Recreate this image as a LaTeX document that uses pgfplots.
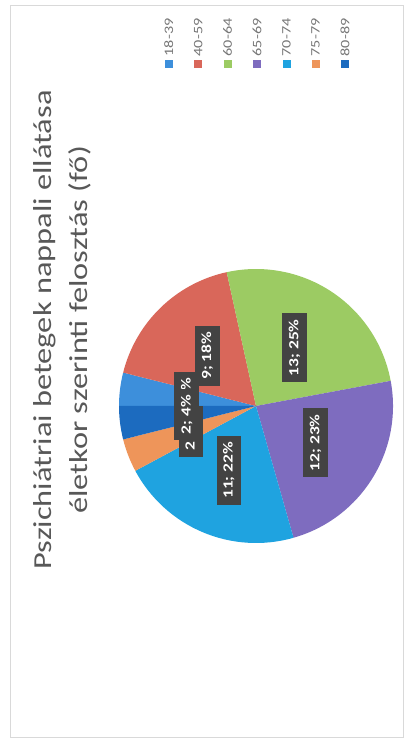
\documentclass[border=0pt]{standalone}
\usepackage{pgfplots}
\pgfplotsset{compat=1.18}
\usepackage{pgfplotstable}
\usepackage{fontspec}
\setmainfont{Carlito}
\newfontfamily\wide[FakeStretch=1.25]{Carlito}

\definecolor{c0}{HTML}{3D8FDB}
\definecolor{c1}{HTML}{D9675A}
\definecolor{c2}{HTML}{9CCB63}
\definecolor{c3}{HTML}{7E6CBF}
\definecolor{c4}{HTML}{1FA3E0}
\definecolor{c5}{HTML}{EE955A}
\definecolor{c6}{HTML}{1C6BBF}
\definecolor{lblbg}{HTML}{434343}
\definecolor{ttl}{HTML}{585858}
\definecolor{legtxt}{HTML}{777777}

% korcsoport, fo, szazalek (ahogy a diagram kiirja)
\pgfplotstableread{
age n pct
18-39 2 4
40-59 9 18
60-64 13 25
65-69 12 23
70-74 11 22
75-79 2 4
80-89 2 4
}\piedata

% jelmagyarazat-bejegyzes: negyzet alul, felirat folfele
\newcommand\legsq[2]{\rotatebox{90}{\rule{0pt}{8bp}\textcolor{#1}{\rule{8bp}{8bp}}\hspace{4bp}#2}}

\begin{document}
% az axis bal also sarka az origo; a dia 406x740, ebben (119,197)-nel
\begin{tikzpicture}[x=1bp, y=1bp]
  \draw[gray!30, line width=0.5bp] (-109,-194) rectangle (284,538);

  \node[rotate=90, align=center, text=ttl,
        font=\wide\fontsize{26}{36}\selectfont] at (-57,213)
    {Pszichiátriai betegek nappali ellátása\\életkor szerinti felosztás (fő)};

  \begin{axis}[
      hide axis,
      scale only axis,
      width=274bp, height=274bp,
      xmin=-1, xmax=1, ymin=-1, ymax=1,
      legend columns=-1,
      legend image code/.code={},
      legend style={
          at={(rel axis cs:0.1265,1.7263)}, anchor=south west,
          draw=none, fill=none, inner sep=0pt,
          column sep=10.35bp,
          nodes={inner sep=0pt},
          font=\wide\fontsize{13}{13}\selectfont, text=legtxt},
    ]
    \pgfplotsextra{
      % osszeg
      \gdef\total{0}
      \foreach \i in {0,...,6}{
        \pgfplotstablegetelem{\i}{n}\of\piedata
        \pgfmathsetmacro\t{\total+\pgfplotsretval}
        \xdef\total{\t}
      }
      % szeletek: 9 oras iranybol indul, oramutato jarasaval
      \gdef\acc{0}
      \foreach \i in {0,...,6}{
        \pgfplotstablegetelem{\i}{n}\of\piedata
        \let\nv\pgfplotsretval
        \pgfmathsetmacro\aa{180-\acc/\total*360}
        \pgfmathsetmacro\ab{180-(\acc+\nv)/\total*360}
        \fill[c\i] (axis cs:0,0) -- (axis cs:{cos(\aa)},{sin(\aa)})
          arc[start angle=\aa, end angle=\ab, radius=137bp] -- cycle;
        \pgfmathsetmacro\t{\acc+\nv}
        \xdef\acc{\t}
      }
      % cimkek
      \gdef\acc{0}
      \foreach \i in {0,...,6}{
        \pgfplotstablegetelem{\i}{n}\of\piedata
        \let\nv\pgfplotsretval
        \pgfplotstablegetelem{\i}{pct}\of\piedata
        \let\pv\pgfplotsretval
        \pgfmathsetmacro\am{180-(\acc+\nv/2)/\total*360}
        \node[rotate=90, fill=lblbg, text=white, inner xsep=6bp, inner ysep=6.5bp,
              font=\wide\bfseries\fontsize{14}{14}\selectfont]
          at (axis cs:{0.51*cos(\am)},{0.51*sin(\am)}) {\nv; \pv\%};
        \pgfmathsetmacro\t{\acc+\nv}
        \xdef\acc{\t}
      }
    }
    \addlegendimage{empty legend}\addlegendentry{\legsq{c0}{18-39}}
    \addlegendimage{empty legend}\addlegendentry{\legsq{c1}{40-59}}
    \addlegendimage{empty legend}\addlegendentry{\legsq{c2}{60-64}}
    \addlegendimage{empty legend}\addlegendentry{\legsq{c3}{65-69}}
    \addlegendimage{empty legend}\addlegendentry{\legsq{c4}{70-74}}
    \addlegendimage{empty legend}\addlegendentry{\legsq{c5}{75-79}}
    \addlegendimage{empty legend}\addlegendentry{\legsq{c6}{80-89}}
  \end{axis}

  \pgfresetboundingbox
  \path[use as bounding box] (-119,-197) rectangle (287,543);
\end{tikzpicture}
\end{document}
